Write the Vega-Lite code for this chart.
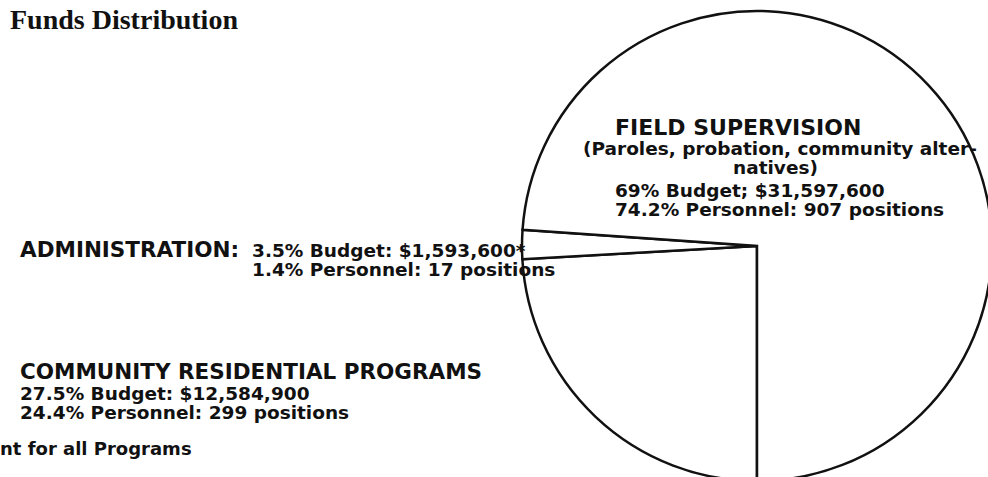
{
  "$schema": "https://vega.github.io/schema/vega-lite/v6.json",
  "width": 988,
  "height": 477,
  "padding": 0,
  "autosize": {"type": "none"},
  "background": "white",
  "config": {
    "view": {"stroke": null},
    "text": {"font": "DejaVu Sans", "fontWeight": "bold", "fill": "#111111", "align": "left", "baseline": "alphabetic", "lineBreak": "\n", "lineHeight": 19}
  },
  "datasets": {
    "slices": [
      {"program": "Community Residential Programs", "share": 24.1, "order": 1},
      {"program": "Administration", "share": 2.0, "order": 2},
      {"program": "Field Supervision", "share": 73.9, "order": 3}
    ],
    "labels": [
      {"id": "title", "t": "Funds Distribution"},
      {"id": "fs_head", "t": "FIELD SUPERVISION"},
      {"id": "fs_note", "t": "(Paroles, probation, community alter-"},
      {"id": "fs_note2", "t": "natives)"},
      {"id": "fs_detail", "t": "69% Budget; $31,597,600\n74.2% Personnel: 907 positions"},
      {"id": "ad_head", "t": "ADMINISTRATION:"},
      {"id": "ad_detail", "t": "3.5% Budget: $1,593,600*\n1.4% Personnel: 17 positions"},
      {"id": "cr_head", "t": "COMMUNITY RESIDENTIAL PROGRAMS"},
      {"id": "cr_detail", "t": "27.5% Budget: $12,584,900\n24.4% Personnel: 299 positions"},
      {"id": "foot", "t": "nt for all Programs"}
    ]
  },
  "layer": [
    {
      "data": {"name": "slices"},
      "mark": {"type": "arc", "outerRadius": 235, "fill": "white", "stroke": "#111111", "strokeWidth": 2.5},
      "encoding": {
        "theta": {"field": "share", "type": "quantitative", "stack": true, "scale": {"range": [3.14159265, 9.42477796]}},
        "order": {"field": "order", "type": "quantitative"},
        "x": {"datum": 0, "type": "quantitative", "scale": {"domain": [-3.2213, 0.983], "nice": false, "zero": false}, "axis": null},
        "y": {"datum": 0, "type": "quantitative", "scale": {"domain": [-0.983, 1.0468], "nice": false, "zero": false}, "axis": null}
      }
    },
    {
      "data": {"name": "labels"},
      "transform": [{"filter": "datum.id === 'title'"}],
      "mark": {"type": "text", "font": "Liberation Serif", "fontSize": 28},
      "encoding": {
        "x": {"datum": -3.1787, "type": "quantitative"},
        "y": {"datum": 0.9234, "type": "quantitative"},
        "text": {"field": "t"}
      }
    },
    {
      "data": {"name": "labels"},
      "transform": [{"filter": "datum.id === 'fs_head'"}],
      "mark": {"type": "text", "fontSize": 22},
      "encoding": {
        "x": {"datum": -0.6043, "type": "quantitative"},
        "y": {"datum": 0.4723, "type": "quantitative"},
        "text": {"field": "t"}
      }
    },
    {
      "data": {"name": "labels"},
      "transform": [{"filter": "datum.id === 'fs_note'"}],
      "mark": {"type": "text", "fontSize": 18.5},
      "encoding": {
        "x": {"datum": -0.7404, "type": "quantitative"},
        "y": {"datum": 0.3872, "type": "quantitative"},
        "text": {"field": "t"}
      }
    },
    {
      "data": {"name": "labels"},
      "transform": [{"filter": "datum.id === 'fs_note2'"}],
      "mark": {"type": "text", "fontSize": 18.5},
      "encoding": {
        "x": {"datum": -0.1021, "type": "quantitative"},
        "y": {"datum": 0.3064, "type": "quantitative"},
        "text": {"field": "t"}
      }
    },
    {
      "data": {"name": "labels"},
      "transform": [{"filter": "datum.id === 'fs_detail'"}],
      "mark": {"type": "text", "fontSize": 18.5},
      "encoding": {
        "x": {"datum": -0.6043, "type": "quantitative"},
        "y": {"datum": 0.2085, "type": "quantitative"},
        "text": {"field": "t"}
      }
    },
    {
      "data": {"name": "labels"},
      "transform": [{"filter": "datum.id === 'ad_head'"}],
      "mark": {"type": "text", "fontSize": 21.5},
      "encoding": {
        "x": {"datum": -3.1362, "type": "quantitative"},
        "y": {"datum": -0.0468, "type": "quantitative"},
        "text": {"field": "t"}
      }
    },
    {
      "data": {"name": "labels"},
      "transform": [{"filter": "datum.id === 'ad_detail'"}],
      "mark": {"type": "text", "fontSize": 18.5},
      "encoding": {
        "x": {"datum": -2.1489, "type": "quantitative"},
        "y": {"datum": -0.0468, "type": "quantitative"},
        "text": {"field": "t"}
      }
    },
    {
      "data": {"name": "labels"},
      "transform": [{"filter": "datum.id === 'cr_head'"}],
      "mark": {"type": "text", "fontSize": 21.5},
      "encoding": {
        "x": {"datum": -3.1362, "type": "quantitative"},
        "y": {"datum": -0.566, "type": "quantitative"},
        "text": {"field": "t"}
      }
    },
    {
      "data": {"name": "labels"},
      "transform": [{"filter": "datum.id === 'cr_detail'"}],
      "mark": {"type": "text", "fontSize": 18.5},
      "encoding": {
        "x": {"datum": -3.1362, "type": "quantitative"},
        "y": {"datum": -0.6553, "type": "quantitative"},
        "text": {"field": "t"}
      }
    },
    {
      "data": {"name": "labels"},
      "transform": [{"filter": "datum.id === 'foot'"}],
      "mark": {"type": "text", "fontSize": 18},
      "encoding": {
        "x": {"datum": -3.2213, "type": "quantitative"},
        "y": {"datum": -0.8894, "type": "quantitative"},
        "text": {"field": "t"}
      }
    }
  ]
}
